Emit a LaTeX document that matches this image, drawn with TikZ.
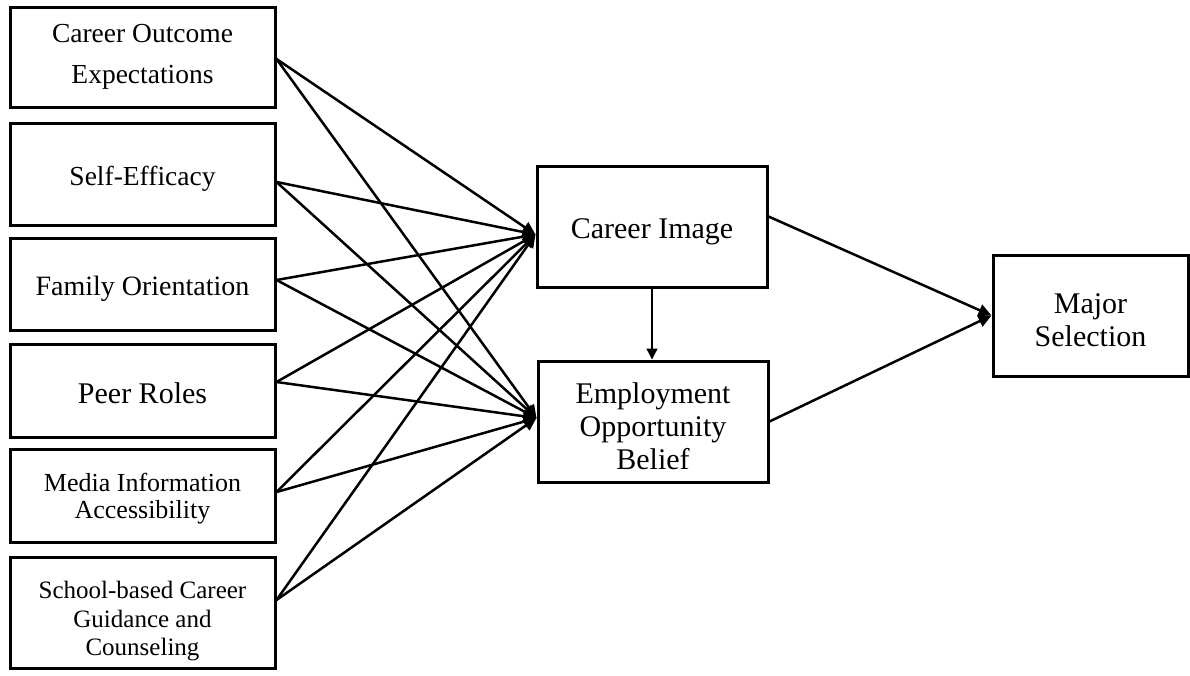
\documentclass[tikz,border=0pt]{standalone}
\usepackage{fontspec}
\setmainfont{Liberation Serif}
\usetikzlibrary{arrows.meta,calc}
\newcommand\lowstrut[1]{\rule{0pt}{\dimexpr0.7em+#1\relax}}
\tikzset{
  box/.style={draw=black, line width=3pt, rectangle, inner sep=0pt, align=center, fill=white},
  leftbox/.style={box, minimum width=265pt},
  link/.style={line width=2.5pt, -{Triangle[length=13pt,width=12pt]}},
  thinlink/.style={line width=1.4pt, -{Triangle[length=11pt,width=11pt]}}
}
\begin{document}
\begin{tikzpicture}[x=1pt,y=-1pt]
\useasboundingbox (0,0) rectangle (1190,675);
\node[leftbox, minimum height=100pt, font=\fontsize{27.5}{41}\selectfont] (b1) at (142.5,57) {Career Outcome\\Expectations};
\node[leftbox, minimum height=102pt, font=\fontsize{27.5}{33}\selectfont] (b2) at (142.5,174) {\lowstrut{10pt}Self-Efficacy};
\node[leftbox, minimum height=92pt, font=\fontsize{28}{33}\selectfont] (b3) at (142.5,284) {\lowstrut{10pt}Family Orientation};
\node[leftbox, minimum height=93pt, font=\fontsize{30}{33}\selectfont] (b4) at (142.5,390.5) {\lowstrut{6pt}Peer Roles};
\node[leftbox, minimum height=93pt, font=\fontsize{26}{27}\selectfont] (b5) at (142.5,495.5) {\lowstrut{6pt}Media Information\\Accessibility};
\node[leftbox, minimum height=111pt, font=\fontsize{25}{28.5}\selectfont] (b6) at (142.5,612.5) {\lowstrut{17pt}School-based Career\\Guidance and\\Counseling};
\node[box, minimum width=230pt, minimum height=121pt, font=\fontsize{30}{33}\selectfont] (ci) at (652,226.5) {\lowstrut{10pt}Career Image};
\node[box, minimum width=230pt, minimum height=121pt, font=\fontsize{30}{33}\selectfont] (eo) at (653,421.5) {\lowstrut{9pt}Employment\\Opportunity\\Belief};
\node[box, minimum width=195pt, minimum height=121pt, font=\fontsize{30}{33}\selectfont] (ms) at (1090.5,315.5) {\lowstrut{9pt}Major\\Selection};

\coordinate (s1) at ($(b1.east)+(0,2)$);
\coordinate (s2) at ($(b2.east)+(0,8)$);
\coordinate (s3) at ($(b3.east)+(0,-4)$);
\coordinate (s4) at ($(b4.east)+(0,-8.5)$);
\coordinate (s5) at ($(b5.east)+(0,-3.5)$);
\coordinate (s6) at ($(b6.east)+(0,-12.5)$);
\coordinate (tci) at ($(ci.west)+(0,8)$);
\coordinate (teo) at ($(eo.west)+(0,-3.5)$);
\coordinate (sci) at ($(ci.east)+(0,-10)$);

\foreach \s in {s1,s2,s3,s4,s5,s6}{
  \draw[link] (\s) -- (tci);
  \draw[link] (\s) -- (teo);
}
\draw[thinlink] (ci.south) -- (ci.south |- eo.north);
\draw[link] (sci) -- (ms.west);
\draw[link] (eo.east) -- (ms.west);
\end{tikzpicture}
\end{document}
